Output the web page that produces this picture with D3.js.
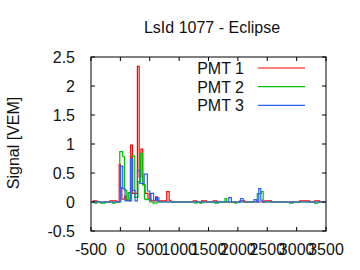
<!DOCTYPE html>
<html>
<head>
<meta charset="utf-8">
<script src="https://cdn.jsdelivr.net/npm/d3@7"></script>
<style>
body { margin: 0; background: #fff; }
text { font-family: "Liberation Sans", Arial, sans-serif; font-size: 16px; fill: #111; }
</style>
</head>
<body>
<svg id="chart" width="360" height="270"></svg>
<script>
const title = "LsId 1077 - Eclipse";
const yLabel = "Signal [VEM]";
const xTicks = [-500, 0, 500, 1000, 1500, 2000, 2500, 3000, 3500];
const yTicks = [-0.5, 0, 0.5, 1, 1.5, 2, 2.5];
const seriesNames = ["PMT 1", "PMT 2", "PMT 3"];
const seriesColors = ["#ff0000", "#00c000", "#2860ff"];

// [time ns, value] step changes
const pmt1 = [[-480, 0], [-460, 0.02], [-403, 0], [-177, 0.02], [-63, 0], [-20, 0.65], [0, 0.25], [25, 0.05], [75, 0.1], [100, 0.03],
  [175, 0.98], [205, 0.15], [290, 2.34], [320, 0.43], [350, 0.91], [380, 0.3], [420, 0.15], [470, 0.05], [520, 0.02],
  [600, 0.09], [630, 0.02], [790, 0.18], [830, 0.03], [860, 0], [1240, 0.02], [1297, 0], [1382, 0.02], [1467, 0],
  [1580, 0.02], [1637, 0], [2033, 0.02], [2118, 0], [2458, 0.02], [2572, 0], [3053, 0.02], [3223, 0], [3308, 0.02], [3393, 0], [3480, 0]];
const pmt2 = [[-480, 0], [-432, -0.02], [-400, 0], [-335, -0.02], [-262, 0], [-131, -0.02], [-92, 0], [-10, 0.87], [40, 0.78],
  [70, 0.2], [110, 0.04], [135, 0.16], [165, 0.02], [190, 0.79], [245, 0.08], [300, 0.35], [345, 0.84], [380, 0.3],
  [410, 0.05], [440, 0.04], [500, 0], [560, -0.02], [620, 0], [1268, -0.02], [1300, 0], [1353, -0.02], [1390, 0],
  [1608, -0.02], [1665, 0], [1780, 0.06], [1810, 0], [1948, -0.02], [1980, 0], [2330, 0.145], [2395, 0.18], [2430, 0],
  [2883, -0.02], [2940, 0], [3308, -0.02], [3365, 0], [3480, 0]];
const pmt3 = [[-480, 0], [5, 0.62], [40, 0.23], [80, 0.02], [170, 0.74], [210, 0.2], [250, 0.02], [290, 0.54], [330, 0.32],
  [405, 0.48], [460, 0.19], [500, 0.03], [520, 0.15], [565, 0.03], [617, 0.07], [656, 0], [1845, 0.075], [1890, 0],
  [2045, 0.06], [2090, 0], [2275, 0.04], [2315, 0], [2355, 0.23], [2390, 0.03], [2420, 0], [3480, 0]];
const seriesData = [pmt1, pmt2, pmt3];

const margin = { top: 57, right: 34, bottom: 39, left: 91 },
    width = 360 - margin.left - margin.right,
    height = 270 - margin.top - margin.bottom;

const svg = d3.select("#chart");
const g = svg.append("g").attr("transform", `translate(${margin.left},${margin.top})`);

const x = d3.scaleLinear().domain([-500, 3500]).range([0, width]);
const y = d3.scaleLinear().domain([-0.5, 2.5]).range([height, 0]);

// data lines
const line = d3.line().x(d => x(d[0])).y(d => y(d[1])).curve(d3.curveStepAfter);
seriesData.forEach((data, i) => {
    g.append("path").datum(data).attr("fill", "none").attr("stroke", seriesColors[i]).attr("stroke-width", 1.2).attr("d", line);
});

// border and mirrored ticks
g.append("rect").attr("width", width).attr("height", height).attr("fill", "none").attr("stroke", "#000");
const tickLen = 4;
xTicks.forEach(t => {
    g.append("line").attr("x1", x(t)).attr("x2", x(t)).attr("y1", height).attr("y2", height - tickLen).attr("stroke", "#000");
    g.append("line").attr("x1", x(t)).attr("x2", x(t)).attr("y1", 0).attr("y2", tickLen).attr("stroke", "#000");
    g.append("text").attr("x", x(t)).attr("y", height + 24).attr("text-anchor", "middle").text(t);
});
yTicks.forEach(t => {
    g.append("line").attr("x1", 0).attr("x2", tickLen).attr("y1", y(t)).attr("y2", y(t)).attr("stroke", "#000");
    g.append("line").attr("x1", width).attr("x2", width - tickLen).attr("y1", y(t)).attr("y2", y(t)).attr("stroke", "#000");
    g.append("text").attr("x", -16).attr("y", y(t) + 6).attr("text-anchor", "end").text(t);
});

// labels
svg.append("text").attr("x", 212).attr("y", 33).attr("text-anchor", "middle").text(title);
svg.append("text").attr("transform", "translate(19,143) rotate(-90)").attr("text-anchor", "middle").text(yLabel);

// legend
seriesNames.forEach((name, i) => {
    const ly = 68 + i * 18.7;
    svg.append("text").attr("x", 244).attr("y", ly + 6).attr("text-anchor", "end").text(name);
    svg.append("line").attr("x1", 258).attr("x2", 305).attr("y1", ly).attr("y2", ly).attr("stroke", seriesColors[i]).attr("stroke-width", 1.2);
});
</script>
</body>
</html>
